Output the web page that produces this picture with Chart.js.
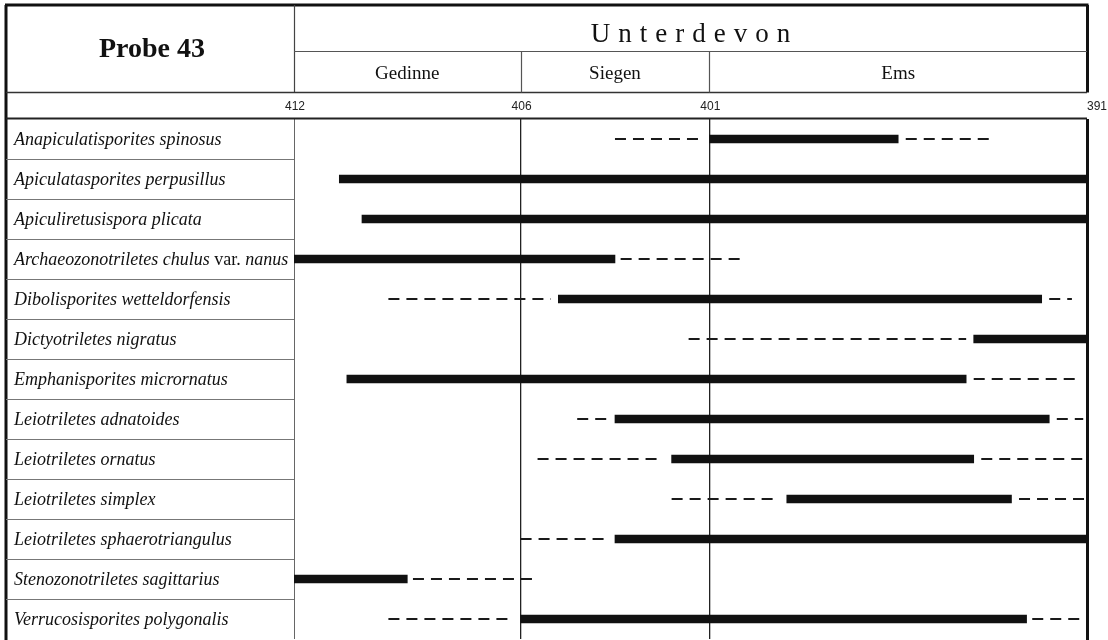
<!DOCTYPE html>
<html>
<head>
<meta charset="utf-8">
<script src="https://cdn.jsdelivr.net/npm/chart.js@4/dist/chart.umd.min.js"></script>
<style>
  body { margin: 0; background: #fff; }
</style>
</head>
<body>
<canvas id="chart" width="1108" height="640"></canvas>
<script>
// taxa (rows, top to bottom)
const taxa = [
  "Anapiculatisporites spinosus",
  "Apiculatasporites perpusillus",
  "Apiculiretusispora plicata",
  "Archaeozonotriletes chulus var. nanus",
  "Dibolisporites wetteldorfensis",
  "Dictyotriletes nigratus",
  "Emphanisporites micrornatus",
  "Leiotriletes adnatoides",
  "Leiotriletes ornatus",
  "Leiotriletes simplex",
  "Leiotriletes sphaerotriangulus",
  "Stenozonotriletes sagittarius",
  "Verrucosisporites polygonalis"
];

// proven range (Ma, older -> younger)
const solidRange = [
  [401.0, 396.0],
  [410.8, 391.0],
  [410.2, 391.0],
  [412.0, 403.5],
  [405.0, 392.2],
  [394.0, 391.0],
  [410.6, 394.2],
  [403.5, 392.0],
  [402.0, 394.0],
  [398.95, 393.0],
  [403.5, 391.0],
  [412.0, 409.0],
  [406.0, 392.6]
];

// probable range before / after (dashed), null = none
const dashedBefore = [
  [403.5, 401.2],
  null,
  null,
  null,
  [409.5, 405.2],
  [401.55, 394.2],
  null,
  [404.5, 403.7],
  [405.55, 402.25],
  [402.0, 399.25],
  [406.0, 403.75],
  null,
  [409.5, 406.2]
];
const dashedAfter = [
  [395.8, 393.5],
  null,
  null,
  [403.35, 400.05],
  [392.0, 391.4],
  null,
  [394.0, 391.2],
  [391.8, 391.1],
  [393.8, 391.05],
  [392.8, 391.05],
  null,
  [408.85, 405.55],
  [392.45, 391.15]
];

const ageTicks = [412, 406, 401, 391];
const stages = ["Gedinne", "Siegen", "Ems"];
const stageBounds = [412, 406, 401, 391];
const title = "Probe 43";
const series = "Unterdevon";

const datasets = [{
  type: "bar",
  data: solidRange,
  backgroundColor: "#111",
  borderWidth: 0,
  barThickness: 8,
  order: 0
}];

function addDashed(list) {
  list.forEach((seg, i) => {
    if (!seg) return;
    datasets.push({
      type: "line",
      indexAxis: "y",
      data: [{ x: seg[0], y: taxa[i] }, { x: seg[1], y: taxa[i] }],
      borderColor: "#1a1a1a",
      borderWidth: 2,
      borderDash: [11, 7],
      pointRadius: 0,
      fill: false,
      order: 1
    });
  });
}
addDashed(dashedBefore);
addDashed(dashedAfter);

const frame = {
  id: "frame",
  beforeDraw(chart) {
    const c = chart.ctx;
    c.save();
    c.fillStyle = "#fff";
    c.fillRect(0, 0, chart.width, chart.height);
    c.restore();
  },
  afterDraw(chart) {
    const c = chart.ctx, xs = chart.scales.x, ys = chart.scales.y, a = chart.chartArea;
    const L = 6, T = 5, R = a.right, h1 = 51.5, h2 = 92.5, h3 = 118.5;

    function line(x1, y1, x2, y2, w, col) {
      c.beginPath();
      c.lineWidth = w;
      c.strokeStyle = col;
      c.moveTo(x1, y1);
      c.lineTo(x2, y2);
      c.stroke();
    }
    c.save();
    // outer frame
    line(L - 1, T, R + 1.5, T, 3, "#111");
    line(L, T, L, chart.height, 3, "#111");
    line(R + 0.5, T, R + 0.5, h2, 3, "#111");
    line(R + 0.5, a.top, R + 0.5, chart.height, 3, "#111");
    // header rules
    line(a.left + 0.5, T, a.left + 0.5, h2, 1.2, "#444");
    line(a.left, h1, R, h1, 1.2, "#555");
    line(L, h2, R, h2, 1.5, "#333");
    line(L, h3, R, h3, 2, "#222");
    for (let i = 1; i < stageBounds.length - 1; i++) {
      const px = Math.round(xs.getPixelForValue(stageBounds[i])) + 0.5;
      line(px, h1, px, h2, 1.2, "#555");
    }
    // row separators in label column
    const band = ys.getPixelForValue(1) - ys.getPixelForValue(0);
    for (let i = 1; i < taxa.length; i++) {
      const py = Math.round(ys.getPixelForValue(i) - band / 2) + 0.5;
      line(L, py, a.left, py, 1, "#777");
    }

    // texts
    c.fillStyle = "#111";
    c.textAlign = "center";
    c.textBaseline = "alphabetic";
    c.font = "bold 28px 'Liberation Serif', serif";
    c.fillText(title, (L + a.left) / 2 + 2, 57);

    c.font = "27px 'Liberation Serif', serif";
    const sp = 8;
    const chars = series.split("");
    const widths = chars.map(ch => c.measureText(ch).width);
    const total = widths.reduce((s, w) => s + w, 0) + sp * (chars.length - 1);
    let cx = (a.left + R) / 2 - total / 2;
    c.textAlign = "left";
    chars.forEach((ch, i) => {
      c.fillText(ch, cx, 42);
      cx += widths[i] + sp;
    });

    c.textAlign = "center";
    c.font = "19px 'Liberation Serif', serif";
    stages.forEach((s, i) => {
      const x1 = xs.getPixelForValue(stageBounds[i]);
      const x2 = xs.getPixelForValue(stageBounds[i + 1]);
      c.fillText(s, (x1 + x2) / 2, 79);
    });

    // age tick labels
    c.font = "12px 'Liberation Sans', Arial, sans-serif";
    c.fillStyle = "#222";
    ageTicks.forEach((v, i) => {
      const shift = i === ageTicks.length - 1 ? 10 : 1;
      c.fillText(String(v), xs.getPixelForValue(v) + shift, 110);
    });

    // taxon labels (genus/species italic, "var." upright)
    c.fillStyle = "#111";
    c.textAlign = "left";
    const it = "italic 18px 'Liberation Serif', serif";
    const up = "18px 'Liberation Serif', serif";
    taxa.forEach((t, i) => {
      const py = ys.getPixelForValue(i) + 6;
      const parts = t.split(/( var\. )/);
      let px = 14;
      parts.forEach(p => {
        c.font = p === " var. " ? up : it;
        c.fillText(p, px, py);
        px += c.measureText(p).width;
      });
    });
    c.restore();
  }
};

new Chart(document.getElementById("chart"), {
  type: "bar",
  data: { labels: taxa, datasets: datasets },
  options: {
    indexAxis: "y",
    responsive: false,
    animation: false,
    layout: { padding: { left: 294, right: 21, top: 92, bottom: 1 } },
    plugins: { legend: { display: false }, tooltip: { enabled: false } },
    scales: {
      x: {
        type: "linear",
        position: "top",
        reverse: true,
        min: 391,
        max: 412,
        afterBuildTicks: s => { s.ticks = ageTicks.map(v => ({ value: v })); },
        afterFit: s => { s.height = 27; },
        border: { display: false },
        grid: {
          drawTicks: false,
          color: ctx => ctx.tick && (ctx.tick.value === 412) ? "#666" : "#222",
          lineWidth: ctx => ctx.tick && ctx.tick.value === 391 ? 0 : (ctx.tick && ctx.tick.value === 412 ? 1 : 1.3)
        },
        ticks: { display: false }
      },
      y: {
        type: "category",
        display: false,
        offset: true
      }
    }
  },
  plugins: [frame]
});
</script>
</body>
</html>
